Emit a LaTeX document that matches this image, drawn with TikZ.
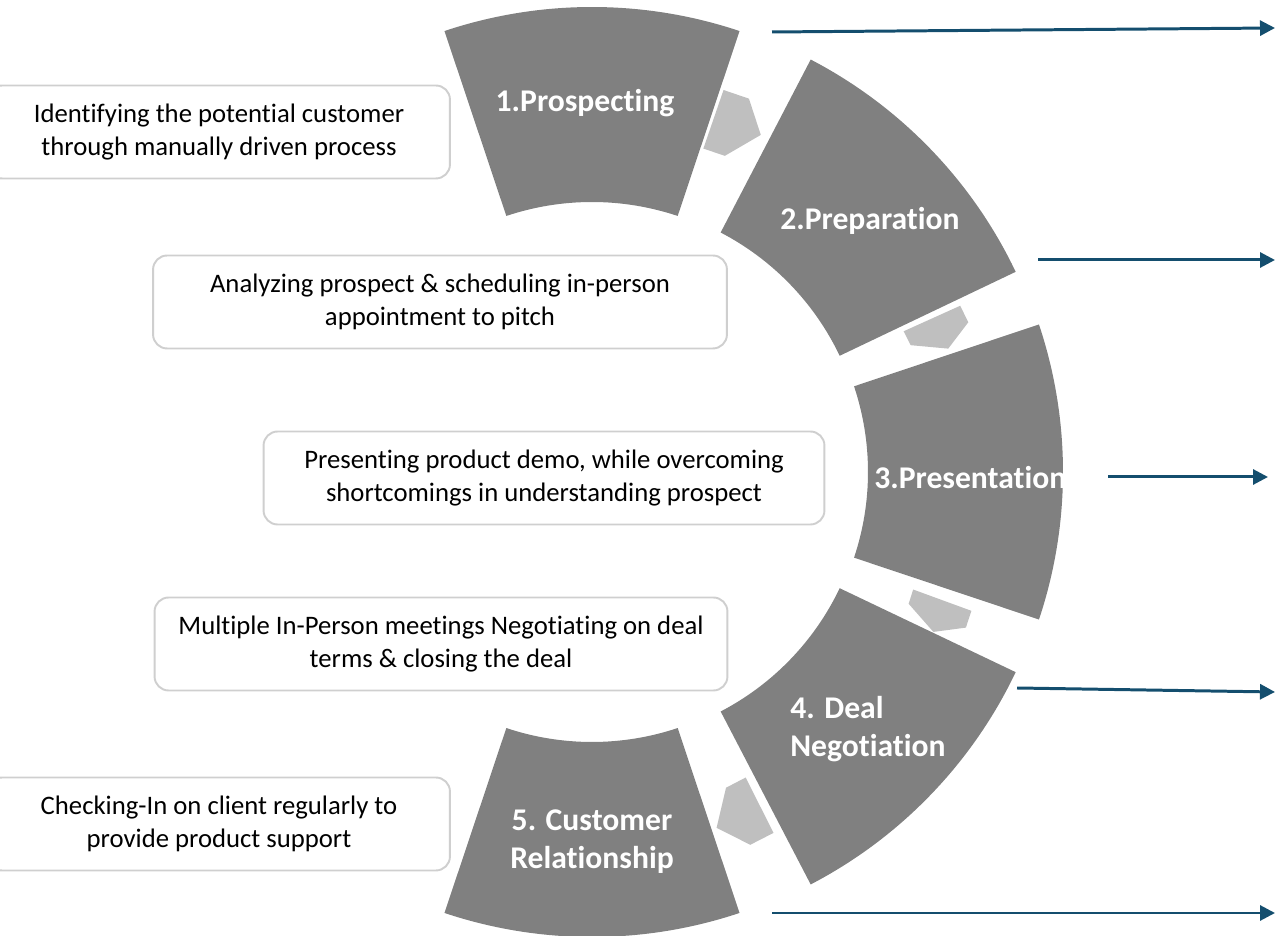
\documentclass[tikz,border=0pt]{standalone}
\usepackage{fontspec}
\setmainfont{Carlito}[Ligatures=NoCommon]
\usepackage{xcolor}
\usepackage{tikz}
\usetikzlibrary{arrows.meta,positioning,calc}

\definecolor{ringgray}{HTML}{808080}
\definecolor{linkgray}{HTML}{BFBFBF}
\definecolor{boxline}{HTML}{CFCFCF}
\definecolor{flowblue}{RGB}{20,78,110}

\begin{document}
\begin{tikzpicture}[
  x=0.02cm,y=0.02cm,
  stage/.style={fill=ringgray},
  link/.style={fill=linkgray},
  stagelbl/.style={text=white,inner sep=0pt,font=\fontsize{18}{21.6}\selectfont\bfseries,align=center},
  desc/.style={rectangle,rounded corners=8pt,draw=boxline,line width=1.1pt,fill=white,minimum height=1.86cm,font=\fontsize{15.2}{18.8}\selectfont,align=center},
  flow/.style={draw=flowblue,line width=1.7pt,-{Triangle[length=3mm,width=3mm]}}
]
\useasboundingbox (0,0) rectangle (1281,936);
\coordinate (ctr) at (592,464);

% ring segments, one per stage (right ones sit a little further out)
\foreach \a/\dx in {90/0,44/4,0/6,-44/4,-90/0}
  \fill[stage,shift={(ctr)},xshift=\dx*0.02cm] (\a+18.5:465) arc[start angle=\a+18.5,end angle=\a-18.5,radius=465]
    -- (\a-18.5:270) arc[start angle=\a-18.5,end angle=\a+18.5,radius=270] -- cycle;

% small links between the segments
\foreach \m/\h in {67.2/3.8,21.7/2.6,-22.6/2.5,-67/3.7}
  \fill[link,shift={(ctr)}] (\m+\h:404) -- (\m:405) -- (\m-\h:377) -- (\m:343) -- (\m+\h:342) -- cycle;

% stage names
\node[stagelbl] (s1) at (585,833) {1.Prospecting};
\node[stagelbl] (s2) at (870,715) {2.Preparation};
\node[stagelbl,anchor=west] (s3) at (874,458) {3.Presentation};
\node[stagelbl,anchor=west,align=left] (s4) at (790,207) {4. Deal\\Negotiation};
\node[stagelbl] (s5) at (592,94) {5. Customer\\Relationship};

% descriptions, left column
\node[desc,minimum width=9.24cm] (d1) at (219,804) {Identifying the potential customer\\through manually driven process};
\node[desc,minimum width=11.48cm] (d2) at (440,634) {Analyzing prospect \& scheduling in-person\\appointment to pitch};
\node[desc,minimum width=11.22cm] (d3) at (544,458) {Presenting product demo, while overcoming\\shortcomings in understanding prospect};
\node[desc,minimum width=11.46cm] (d4) at (441,292) {Multiple In-Person meetings Negotiating on deal\\terms \& closing the deal};
\node[desc,minimum width=9.24cm] (d5) at (219,112) {Checking-In on client regularly to\\provide product support};

% outgoing arrows, right column
\coordinate (f1a) at (772,904); \coordinate (f1b) at (1275,908);
\coordinate (f2a) at (1038,676); \coordinate (f2b) at (1275,676);
\coordinate (f3a) at (1108,459); \coordinate (f3b) at (1268,459);
\coordinate (f4a) at (1017,248); \coordinate (f4b) at (1275,244);
\coordinate (f5a) at (772,23); \coordinate (f5b) at (1275,23);
\draw[flow] (f1a) -- (f1b);
\draw[flow] (f2a) -- (f2b);
\draw[flow] (f3a) -- (f3b);
\draw[flow] (f4a) -- (f4b);
\draw[flow] (f5a) -- (f5b);
\end{tikzpicture}
\end{document}
